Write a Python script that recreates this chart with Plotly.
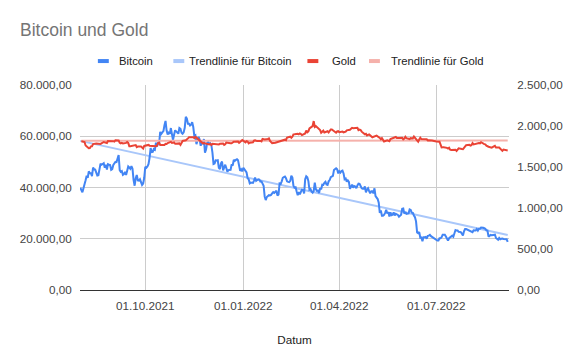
import pandas as pd
import plotly.graph_objects as go

# ---------------- Data ----------------
# Bitcoin, daily values, one list per month
btc_2021_08 = [39900, 39200, 38100, 39700, 40900, 42800, 44600, 43800, 46300, 45600,
               45600, 44400, 47800, 47100, 47000, 45900, 44700, 44800, 46700, 49300,
               48900, 49300, 49500, 47700, 48900, 47000, 49100, 48900, 48800, 46900, 47200]
btc_2021_09 = [48800, 49300, 50000, 49900, 51800, 52700, 46800, 46100, 46400, 44900,
               45200, 46100, 44900, 47100, 48200, 47800, 47300, 48300, 47300, 43000,
               40700, 43600, 44900, 42800, 42700, 43200, 42200, 41000, 41500, 43800]
btc_2021_10 = [48100, 47700, 48200, 49100, 51500, 55400, 53800, 53900, 55000, 54700,
               57500, 56000, 57400, 57300, 61700, 60900, 61500, 62000, 64300, 66000,
               62200, 60700, 61400, 60900, 63200, 60300, 58500, 60600, 62300, 61900, 61300]
btc_2021_11 = [61000, 63200, 62900, 61400, 61000, 61500, 63300, 67600, 66900, 64900,
               64900, 64200, 64500, 65500, 63600, 60100, 60400, 56900, 58100, 59800,
               58700, 56300, 57600, 57200, 58900, 53600, 54800, 57300, 57800, 57000]
btc_2021_12 = [57200, 56500, 53600, 49200, 49400, 50600, 50500, 50600, 47700, 47200,
               49400, 50100, 46700, 48400, 48900, 47600, 46200, 46800, 46700, 46900,
               49000, 48600, 50800, 50400, 50800, 51000, 50600, 47500, 46500, 47100, 46300]
btc_2022_01 = [47700, 47300, 46500, 45900, 43600, 43200, 41600, 41900, 41900, 41800,
               42700, 43900, 42600, 43100, 43200, 43100, 42300, 42400, 41700, 40700,
               36500, 35100, 36300, 36700, 37000, 36900, 37100, 37700, 38200, 37900, 38500]
btc_2022_02 = [38700, 36900, 37300, 41600, 41400, 42400, 43800, 44100, 44300, 43600,
               42400, 42200, 42100, 42600, 44600, 43900, 40600, 40000, 40100, 38400,
               37000, 38200, 37300, 38300, 39200, 39100, 37700, 43200]
btc_2022_03 = [44400, 44000, 42500, 39100, 39400, 38400, 38000, 38700, 41900, 39400,
               38700, 38800, 37800, 39700, 39300, 41100, 41000, 41800, 42200, 41200,
               41000, 42400, 42900, 44000, 44300, 44500, 46800, 47100, 47500, 47100, 45500]
btc_2022_04 = [46300, 45800, 46400, 46600, 45500, 43200, 43500, 42300, 42800, 42200,
               39500, 40100, 41100, 39900, 40600, 40400, 39700, 40800, 41500, 41400,
               40500, 39700, 39500, 39500, 40400, 38100, 39200, 39700, 38600, 37700]
btc_2022_05 = [38500, 38500, 37700, 39700, 36600, 36000, 35500, 34100, 30100, 31000,
               29000, 29000, 29300, 30100, 31300, 29900, 30400, 28700, 30300, 29200,
               29400, 30300, 29100, 29700, 29500, 29300, 28600, 29000, 29400, 31700, 31800]
btc_2022_06 = [29800, 30500, 29700, 29900, 29900, 31400, 31200, 30200, 30100, 29100,
               28400, 26800, 22500, 22200, 22600, 20400, 20500, 19000, 20600, 20600,
               20700, 20000, 21100, 21200, 21500, 21000, 20700, 20300, 20100, 19800]
btc_2022_07 = [19300, 19300, 19300, 20200, 20200, 20600, 21600, 21600, 21600, 20900,
               20000, 19300, 20200, 20600, 20800, 21200, 20800, 22400, 23400, 23200,
               23200, 22700, 22500, 22600, 22000, 21300, 22900, 23800, 23800, 23600, 23300]
btc_2022_08 = [23300, 23000, 22800, 22600, 23300, 23200, 23200, 23800, 23200, 23900,
               23900, 24400, 24400, 24300, 24100, 23900, 23300, 23200, 20800, 21100,
               21500, 21400, 21500, 21400, 21600, 20300, 20000, 19600, 20300, 19800, 20000]
btc_2022_09 = [20100, 19900, 19800, 20000, 19800, 18800]

# Gold, trading-day values, one list per month
gold_2021_08 = [1813, 1810, 1812, 1804, 1763, 1730, 1731, 1752, 1753, 1779, 1786,
                1787, 1788, 1781, 1781, 1805, 1802, 1790, 1792, 1817, 1810, 1814]
gold_2021_09 = [1815, 1810, 1827, 1823, 1795, 1789, 1794, 1788, 1794, 1805, 1794,
                1754, 1754, 1764, 1774, 1768, 1743, 1750, 1750, 1734, 1726, 1757]
gold_2021_10 = [1761, 1769, 1760, 1761, 1756, 1757, 1754, 1760, 1793, 1797, 1768,
                1765, 1769, 1782, 1781, 1792, 1806, 1793, 1797, 1799, 1783]
gold_2021_11 = [1793, 1788, 1769, 1791, 1818, 1825, 1832, 1849, 1862, 1864, 1863,
                1852, 1868, 1858, 1846, 1805, 1789, 1789, 1792, 1788, 1785, 1774]
gold_2021_12 = [1782, 1769, 1783, 1779, 1785, 1783, 1775, 1783, 1787, 1770, 1777,
                1799, 1799, 1791, 1789, 1803, 1809, 1809, 1810, 1794, 1805, 1815, 1829]
gold_2022_01 = [1801, 1814, 1810, 1789, 1797, 1801, 1821, 1826, 1821, 1817, 1818,
                1812, 1843, 1839, 1835, 1842, 1848, 1818, 1796, 1791, 1797]
gold_2022_02 = [1801, 1807, 1805, 1807, 1820, 1826, 1833, 1827, 1860, 1870, 1856,
                1870, 1898, 1899, 1906, 1898, 1910, 1903, 1889, 1909]
gold_2022_03 = [1944, 1923, 1935, 1970, 1999, 2060, 1989, 2000, 1988, 1951, 1918,
                1927, 1943, 1921, 1936, 1921, 1944, 1958, 1958, 1923, 1918, 1933, 1937]
gold_2022_04 = [1925, 1932, 1923, 1925, 1931, 1947, 1954, 1967, 1978, 1974, 1975,
                1979, 1950, 1957, 1951, 1931, 1898, 1904, 1885, 1894, 1897]
gold_2022_05 = [1863, 1868, 1881, 1878, 1883, 1854, 1838, 1852, 1822, 1811, 1825,
                1818, 1815, 1842, 1846, 1853, 1866, 1853, 1851, 1853, 1856, 1837]
gold_2022_06 = [1847, 1869, 1851, 1841, 1852, 1853, 1848, 1871, 1819, 1808, 1835,
                1857, 1840, 1839, 1833, 1838, 1823, 1826, 1823, 1820, 1818, 1807]
gold_2022_07 = [1811, 1808, 1764, 1739, 1740, 1742, 1733, 1725, 1735, 1711, 1707,
                1709, 1711, 1696, 1718, 1727, 1719, 1717, 1734, 1755, 1766]
gold_2022_08 = [1772, 1760, 1765, 1791, 1775, 1789, 1794, 1792, 1789, 1802, 1779,
                1776, 1761, 1758, 1747, 1736, 1748, 1751, 1758, 1738, 1737, 1724, 1711]
gold_2022_09 = [1697, 1712, 1710, 1702]

# Trendline end values (start, end)
btc_trend = [58200, 21500]
gold_trend = [1820, 1822]

tick_dates = ["2021-10-01", "2022-01-01", "2022-04-01", "2022-07-01"]
tick_labels = ["01.10.2021", "01.01.2022", "01.04.2022", "01.07.2022"]

btc_months = [("2021-08-01", btc_2021_08), ("2021-09-01", btc_2021_09),
              ("2021-10-01", btc_2021_10), ("2021-11-01", btc_2021_11),
              ("2021-12-01", btc_2021_12), ("2022-01-01", btc_2022_01),
              ("2022-02-01", btc_2022_02), ("2022-03-01", btc_2022_03),
              ("2022-04-01", btc_2022_04), ("2022-05-01", btc_2022_05),
              ("2022-06-01", btc_2022_06), ("2022-07-01", btc_2022_07),
              ("2022-08-01", btc_2022_08), ("2022-09-01", btc_2022_09)]
gold_months = [("2021-08-01", gold_2021_08), ("2021-09-01", gold_2021_09),
               ("2021-10-01", gold_2021_10), ("2021-11-01", gold_2021_11),
               ("2021-12-01", gold_2021_12), ("2022-01-01", gold_2022_01),
               ("2022-02-01", gold_2022_02), ("2022-03-01", gold_2022_03),
               ("2022-04-01", gold_2022_04), ("2022-05-01", gold_2022_05),
               ("2022-06-01", gold_2022_06), ("2022-07-01", gold_2022_07),
               ("2022-08-01", gold_2022_08), ("2022-09-01", gold_2022_09)]

btc_x, btc_y = [], []
for start, vals in btc_months:
    btc_x += list(pd.date_range(start, periods=len(vals), freq="D"))
    btc_y += vals
gold_x, gold_y = [], []
for start, vals in gold_months:
    gold_x += list(pd.bdate_range(start, periods=len(vals)))
    gold_y += vals

# ---------------- Styling ----------------
FONT = "Liberation Sans, Arial, sans-serif"
BLUE = "#4285F4"
BLUE_T = "#A9C7FA"
RED = "#EA4335"
RED_T = "#F5B1AB"

# the page body has an 8px margin, so the figure is offset by 8px
OFF = 8
W, H = 580 - OFF, 359 - OFF
L, R, T, B = 77 - OFF, 71, 85 - OFF, 68.5
PW, PH = W - L - R, H - T - B


def px(x):  # page pixel -> paper coordinate
    return (x - OFF - L) / PW


def py(y):
    return (H - B - (y - OFF)) / PH


fig = go.Figure()
fig.add_trace(go.Scatter(x=[btc_x[0], btc_x[-1]], y=btc_trend, name="Trendlinie für Bitcoin",
                         mode="lines", line=dict(color=BLUE_T, width=2), yaxis="y"))
fig.add_trace(go.Scatter(x=[gold_x[0], gold_x[-1]], y=gold_trend, name="Trendlinie für Gold",
                         mode="lines", line=dict(color=RED_T, width=2), yaxis="y2"))
fig.add_trace(go.Scatter(x=gold_x, y=gold_y, name="Gold", mode="lines",
                         line=dict(color=RED, width=2), yaxis="y2"))
fig.add_trace(go.Scatter(x=btc_x, y=btc_y, name="Bitcoin", mode="lines",
                         line=dict(color=BLUE, width=2), yaxis="y"))

# custom legend (Google-Sheets-like short swatches)
legend_items = [("Bitcoin", BLUE, 95, 114), ("Trendlinie für Bitcoin", BLUE_T, 171, 185),
                ("Gold", RED, 306, 329), ("Trendlinie für Gold", RED_T, 368, 388)]
shapes, annotations = [], []
for name, col, sx, tx in legend_items:
    shapes.append(dict(type="line", xref="paper", yref="paper", x0=px(sx), x1=px(sx + 11),
                       y0=py(61), y1=py(61), line=dict(color=col, width=4)))
    annotations.append(dict(text=name, xref="paper", yref="paper", x=px(tx), y=py(61),
                            xanchor="left", yanchor="middle", showarrow=False,
                            font=dict(family=FONT, size=11.3, color="#222222")))

fig.update_layout(
    width=W, height=H,
    margin=dict(l=L, r=R, t=T, b=B),
    paper_bgcolor="white", plot_bgcolor="white",
    separators=",.",
    showlegend=False,
    font=dict(family=FONT, size=12, color="#444444"),
    title=dict(text="Bitcoin und Gold", x=(20 - OFF) / W, xanchor="left", xref="container",
               y=1 - (30 - OFF) / H, yanchor="middle", yref="container",
               font=dict(family=FONT, size=17.5, color="#757575")),
    xaxis=dict(type="date", range=["2021-07-31 18:00", "2022-09-07 05:00"],
               tickvals=tick_dates, ticktext=tick_labels,
               showgrid=True, gridcolor="#cccccc", gridwidth=1,
               showline=True, linecolor="#333333", linewidth=1,
               ticks="outside", ticklen=5, tickcolor="rgba(0,0,0,0)",
               tickfont=dict(family=FONT, size=11.7, color="#444444"),
               title=dict(text="Datum", standoff=24,
                          font=dict(family=FONT, size=11.7, color="#222222")),
               zeroline=False),
    yaxis=dict(range=[0, 80000], dtick=20000, tickformat=",.2f",
               showgrid=True, gridcolor="#cccccc", gridwidth=1,
               zeroline=False, showline=False,
               ticks="outside", ticklen=5, tickcolor="rgba(0,0,0,0)",
               tickfont=dict(family=FONT, size=11.7, color="#444444")),
    yaxis2=dict(range=[0, 2500], dtick=500, tickformat=",.2f", overlaying="y",
                side="right", showgrid=False, zeroline=False, showline=False,
                ticks="outside", ticklen=5, tickcolor="rgba(0,0,0,0)",
                tickfont=dict(family=FONT, size=11.7, color="#444444")),
    shapes=shapes,
    annotations=annotations,
)

fig.write_html("out.html")
